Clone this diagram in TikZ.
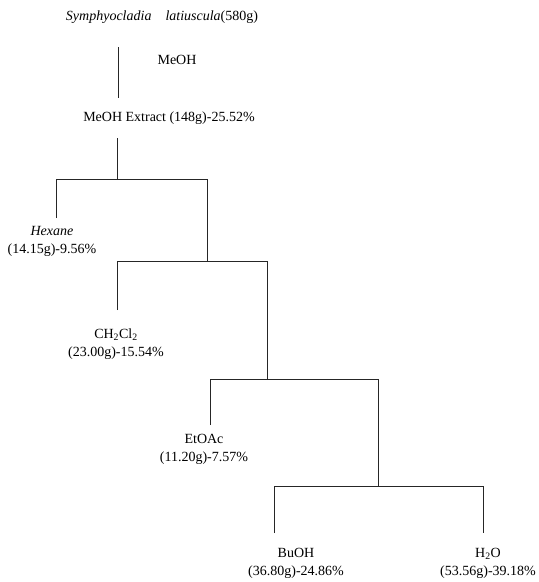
\documentclass[tikz,border=0pt]{standalone}
\usepackage{fontspec}
\setmainfont{Liberation Serif}
\begin{document}
\begin{tikzpicture}[x=1pt,y=-1pt,
  lbl/.style={inner sep=0pt,font=\fontsize{14}{18}\selectfont,align=center},
  conn/.style={draw=black!85,line width=0.7pt}]
\useasboundingbox (0,0) rectangle (539,582);
% texts
\node[lbl] (title) at (162,17) {\textit{Symphyocladia\quad latiuscula}(580g)};
\node[lbl] (meoh) at (177,60) {MeOH};
\node[lbl] (extract) at (169,118) {MeOH\ Extract\ (148g)-25.52\%};
\node[lbl] (hexane) at (52,241) {\textit{Hexane}\\(14.15g)-9.56\%};
\node[lbl] (ch2cl2) at (116,344) {CH\textsubscript{2}Cl\textsubscript{2}\\(23.00g)-15.54\%};
\node[lbl] (etoac) at (204,449) {EtOAc\\(11.20g)-7.57\%};
\node[lbl] (buoh) at (296,563) {BuOH\\(36.80g)-24.86\%};
\node[lbl] (h2o) at (488,563) {H\textsubscript{2}O\\(53.56g)-39.18\%};
% junction coordinates
\coordinate (a1) at (118,47);
\coordinate (a2) at (118,98);
\coordinate (b1) at (117,138);
\coordinate (b2) at (117,179);
\coordinate (hl) at (56,179);
\coordinate (hr) at (207,179);
\coordinate (hx) at (56,218);
\coordinate (c1) at (207,261);
\coordinate (cl) at (117,261);
\coordinate (cr) at (267,261);
\coordinate (cx) at (117,310);
\coordinate (d1) at (267,379);
\coordinate (dl) at (210,379);
\coordinate (dr) at (378,379);
\coordinate (dx) at (210,425);
\coordinate (e1) at (378,486);
\coordinate (el) at (274,486);
\coordinate (er) at (483,486);
\coordinate (ex) at (274,533);
\coordinate (fx) at (483,533);
% connectors
\draw[conn] (a1) -- (a2);
\draw[conn] (b1) -- (b2);
\draw[conn] (hx) -- (hl) -- (hr) -- (c1);
\draw[conn] (cx) -- (cl) -- (cr) -- (d1);
\draw[conn] (dx) -- (dl) -- (dr) -- (e1);
\draw[conn] (ex) -- (el) -- (er) -- (fx);
\end{tikzpicture}
\end{document}
